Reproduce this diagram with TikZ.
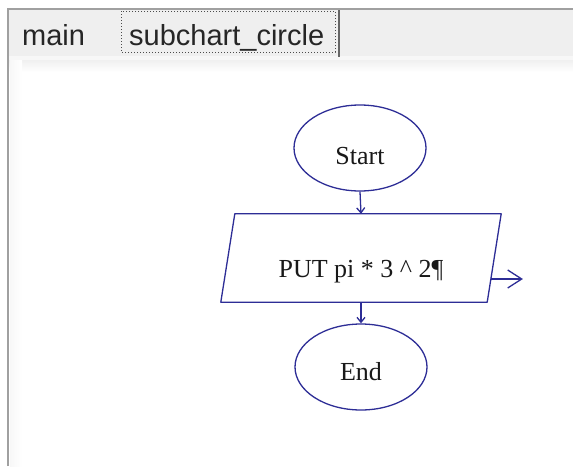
\documentclass[tikz,border=0pt]{standalone}
\usepackage{fontspec}
\setmainfont{Liberation Serif}
\newfontfamily\tabfont{Liberation Sans}
\usetikzlibrary{shapes.geometric,arrows.meta,calc}

\definecolor{flowblue}{RGB}{45,45,150}
\definecolor{tabgray}{RGB}{239,239,239}
\definecolor{edgegray}{RGB}{160,160,160}

\begin{document}
\begin{tikzpicture}[x=1pt,y=-1pt,
  terminal/.style={ellipse, draw=flowblue, line width=1.3pt, minimum width=132pt, minimum height=86pt, inner sep=0pt},
  iobox/.style={rectangle, minimum width=266pt, minimum height=88pt, inner sep=0pt},
  iooutline/.style={draw=flowblue, line width=1.3pt, line join=round},
  txt/.style={font=\fontsize{26}{26}\selectfont, text=black!90},
  tablabel/.style={font=\tabfont\fontsize{29}{29}\selectfont, text=black!85, inner sep=0pt},
  flow/.style={draw=flowblue, line width=1.3pt, -{Straight Barb[length=5pt,width=8pt]}},
  outflow/.style={draw=flowblue, line width=1.3pt, -{Straight Barb[length=14pt,width=18pt]}}]
\useasboundingbox (0,0) rectangle (573,466);
\fill[white] (0,0) rectangle (573,466);

% tab bar
\fill[tabgray] (9,10) rectangle (573,56);
\fill[black!3] (9,56) rectangle (573,60);
\fill[top color=black!6, bottom color=white] (9,60) rectangle (573,72);
\fill[left color=black!3, right color=white] (10,60) rectangle (22,466);
\draw[edgegray, line width=2pt] (8,466) -- (8,9) -- (573,9);
\draw[black!70, dotted, line width=1pt] (121,11) rectangle (335,52);
\draw[black!60, line width=2pt] (339,10) -- (339,57);
\node[tablabel, anchor=base west] (maintab) at (22,45) {main};
\node[tablabel, anchor=base west] (subtab) at (129,45) {subchart\_circle};

% flowchart
\node[terminal, label={[txt, yshift=-8pt]center:Start}] (start) at (360,148) {};
\node[iobox, label={[txt, yshift=-14pt]center:PUT pi * 3 \textasciicircum{} 2¶}] (put) at (361,258) {};
\draw[iooutline] ([xshift=7pt]put.north west) -- ([xshift=7pt]put.north east)
  -- ([xshift=-7pt]put.south east) -- ([xshift=-7pt]put.south west) -- cycle;
\node[terminal, label={[txt, yshift=-5pt]center:End}] (end) at (361,367) {};

\draw[flow] (start.south) -- (put.north);
\draw[flow] (put.south) -- (end.north);
\coordinate (putout) at ([xshift=-3.3pt, yshift=-21pt]put.east);
\coordinate (outend) at ($(putout)+(32,0)$);
\draw[outflow] (putout) -- (outend);
\end{tikzpicture}
\end{document}
